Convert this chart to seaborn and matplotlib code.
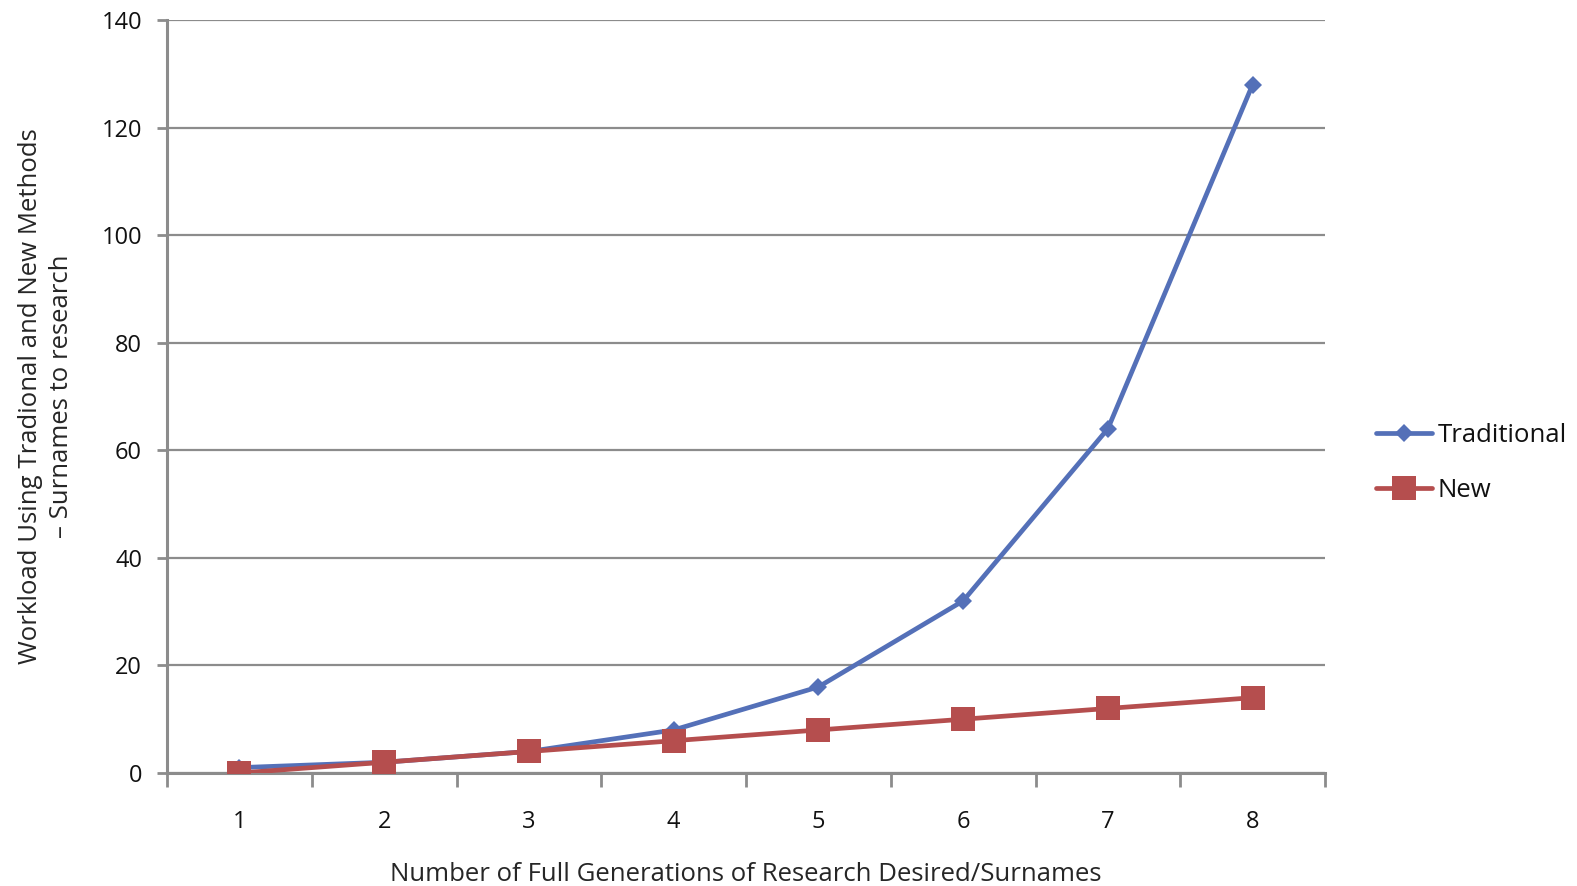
import matplotlib
matplotlib.use("Agg")
import matplotlib.pyplot as plt
import seaborn as sns
import pandas as pd

# chart values
generations = [1, 2, 3, 4, 5, 6, 7, 8]
traditional = [1, 2, 4, 8, 16, 32, 64, 128]
new_method = [0, 2, 4, 6, 8, 10, 12, 14]
y_ticks = [0, 20, 40, 60, 80, 100, 120, 140]

sns.set_style("white")
plt.rcParams['font.family'] = ['Open Sans', 'DejaVu Sans']
plt.rcParams['text.color'] = '#111111'

df = pd.DataFrame({"gen": generations, "Traditional": traditional, "New": new_method})

fig = plt.figure(figsize=(15.77, 8.86), dpi=100)
ax = fig.add_axes([167 / 1577, 1 - 773 / 886, (1325 - 167) / 1577, (773 - 20) / 886])

sns.lineplot(data=df, x="gen", y="Traditional", ax=ax, color="#5470B8", lw=3.4,
             marker="D", markersize=9, markeredgewidth=0, label="Traditional", zorder=3)
sns.lineplot(data=df, x="gen", y="New", ax=ax, color="#B54E4E", lw=3.4,
             marker="s", markersize=17, markeredgewidth=0, label="New", zorder=4)

ax.set_xlim(0.5, 8.5)
ax.set_ylim(0, 140)
ax.set_yticks(y_ticks)
ax.set_xticks(generations)
ax.set_xticks([g - 0.5 for g in generations] + [8.5], minor=True)
ax.yaxis.grid(True, color="#8c8c8c", lw=1.6)
ax.set_axisbelow(True)
for s in ["top", "right"]:
    ax.spines[s].set_visible(False)
for s in ["left", "bottom"]:
    ax.spines[s].set_color("#8c8c8c")
    ax.spines[s].set_linewidth(2.2)
ax.tick_params(axis="y", which="major", direction="out", length=7, width=2, color="#8c8c8c",
               left=True, labelsize=17, pad=11, labelcolor="#111111")
ax.tick_params(axis="x", which="major", length=0, labelsize=17, pad=27, labelcolor="#111111")
ax.tick_params(axis="x", which="minor", direction="out", length=10, width=2, color="#8c8c8c", bottom=True)

ax.set_xlabel("Number of Full Generations of Research Desired/Surnames", fontsize=18.5, labelpad=20)
ax.set_ylabel("Workload Using Tradional and New Methods\n– Surnames to research", fontsize=18.5,
              labelpad=20, linespacing=1.3)

ax.legend(loc="center left", bbox_to_anchor=(1.044, 0.412), frameon=False, fontsize=18.5,
          handlelength=2.2, handletextpad=0.2, labelspacing=1.15, borderpad=0, borderaxespad=0)

fig.savefig("out.png", dpi=100)
